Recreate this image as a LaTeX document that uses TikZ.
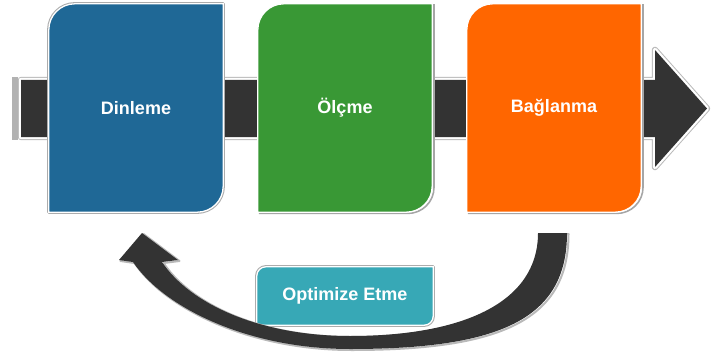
\documentclass[tikz,border=0pt]{standalone}
\usepackage{fontspec}
\setmainfont{Liberation Sans}
\usetikzlibrary{arrows,positioning,backgrounds}

\definecolor{dinleblue}{HTML}{1F6896}
\definecolor{olcgreen}{HTML}{399835}
\definecolor{bagorange}{HTML}{FF6600}
\definecolor{optteal}{HTML}{37A8B6}
\definecolor{bardark}{HTML}{333333}

% card outline: rounded top left and bottom right corners only
\newcommand{\cardshape}[3][]{%
  \path[#1] (#2.south west) -- ([yshift=-#3]#2.north west)
    arc[start angle=180,end angle=90,radius=#3] -- (#2.north east)
    -- ([yshift=#3]#2.south east)
    arc[start angle=0,end angle=-90,radius=#3] -- cycle;}

\begin{document}
\begin{tikzpicture}[x=1pt,y=1pt,node distance=209pt]
  \tikzstyle{stage}=[minimum width=174pt,minimum height=208pt,text=white,
    font=\bfseries\fontsize{18}{20}\selectfont]
  \tikzstyle{small stage}=[minimum width=176pt,minimum height=58pt,text=white,
    font=\bfseries\fontsize{18}{20}\selectfont]
  \tikzstyle{rim}=[draw=gray!65,line width=3.4pt,line join=round]
  \tikzstyle{edge}=[draw=white,line width=1.3pt]
  \tikzstyle{drop}=[draw=gray!70,line width=1.6pt,transform canvas={shift={(1.8pt,-1.2pt)}}]

  \useasboundingbox (0,0) rectangle (711,354);

  \node[stage] (dinle) at (136,246)      {Dinleme};
  \node[stage] (olc)   [right of=dinle]  {Ölçme};
  \node[stage] (bag)   [right of=olc]    {Bağlanma};
  \node[small stage] (opt) [below of=olc, node distance=188pt] {Optimize Etme};

  \begin{scope}[on background layer]
    % main arrow behind the cards
    \fill[gray!60] (12,277) rectangle (18,214);
    \draw[gray!55,line width=6.4pt,line join=round]
      (21,274) -- (655,274) -- (655,304) -- (707,245.5) -- (655,187) -- (655,217) -- (21,217) -- cycle;
    \filldraw[fill=bardark,draw=white,line width=4.4pt,line join=round]
      (21,274) -- (655,274) -- (655,304) -- (707,245.5) -- (655,187) -- (655,217) -- (21,217) -- cycle;
    \fill[bardark]
      (21,274) -- (655,274) -- (655,304) -- (707,245.5) -- (655,187) -- (655,217) -- (21,217) -- cycle;

    \cardshape[rim]{dinle}{26pt}
    \cardshape[drop]{olc}{26pt}
    \cardshape[drop]{bag}{26pt}
    \cardshape[rim]{opt}{9pt}
    \cardshape[fill=dinleblue,edge]{dinle}{26pt}
    \cardshape[fill=olcgreen,edge]{olc}{26pt}
    \cardshape[fill=bagorange,edge]{bag}{26pt}
    \cardshape[fill=optteal,edge]{opt}{9pt}

    % loop back from Bağlanma to Dinleme
    \draw[gray!55,line width=2pt,line join=round,transform canvas={shift={(1.5pt,-1pt)}}]
      (567,121) .. controls (567,35) and (500,5) .. (350,5)
      .. controls (250,5) and (165,45) .. (133,92) -- (119,94) -- (142,121) -- (178,94) -- (162,92)
      .. controls (190,50) and (260,18) .. (350,18)
      .. controls (460,18) and (538,50) .. (538,121) -- cycle;
    \fill[bardark]
      (567,121) .. controls (567,35) and (500,5) .. (350,5)
      .. controls (250,5) and (165,45) .. (133,92) -- (119,94) -- (142,121) -- (178,94) -- (162,92)
      .. controls (190,50) and (260,18) .. (350,18)
      .. controls (460,18) and (538,50) .. (538,121) -- cycle;
  \end{scope}
\end{tikzpicture}
\end{document}
